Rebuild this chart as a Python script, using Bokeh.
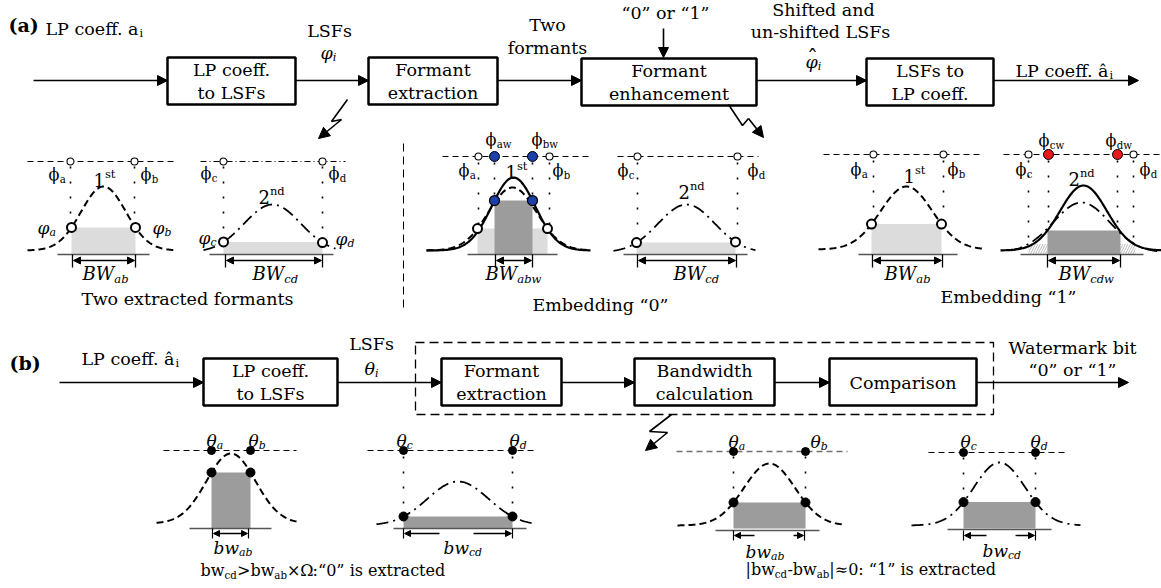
import numpy as np
from bokeh.plotting import figure
from bokeh.models import Range1d, Arrow, NormalHead, ColumnDataSource
from bokeh.core.properties import value
from bokeh.embed import file_html
from bokeh.resources import INLINE

SERIF = "DejaVu Serif"
W, H = 1161, 588

# ---------------- text content ----------------
box_labels_a = [["LP coeff.", "to LSFs"], ["Formant", "extraction"],
                ["Formant", "enhancement"], ["LSFs to", "LP coeff."]]
box_labels_b = [["LP coeff.", "to LSFs"], ["Formant", "extraction"],
                ["Bandwidth", "calculation"], ["Comparison"]]
captions = ["Two extracted formants", "Embedding \u201c0\u201d", "Embedding \u201c1\u201d"]
bit_label = "\u201c0\u201d or \u201c1\u201d"
PHI, PHI_IT, THETA = "\u03d5", "\u03c6", "\u03b8"

# ---------------- formant bell shapes: centre, base, height, spread ----------------
curves = {
    "a1": (103, 250, 64, 22.4, 27, 175, "dash"),
    "a2": (272, 252, 48, 28.2, 203, 335, "dashdot"),
    "a3": (512, 250, 63, 24.1, 426, 590, "dash"),
    "a3w": (513, 250, 73, 21.8, 426, 590, "solid"),
    "a4": (686, 252, 48, 28.2, 613, 755, "dashdot"),
    "a5": (906, 249, 63, 26.0, 818, 985, "dash"),
    "a6": (1081, 252, 50, 28.2, 1010, 1161, "dashdot"),
    "a6w": (1083, 250, 65, 23.5, 1000, 1161, "solid"),
    "b1": (230.5, 523, 70, 24.5, 156, 296, "dash"),
    "b2": (457.5, 525, 44, 30.6, 376, 535, "dashdot"),
    "b3": (769, 525, 62, 25.6, 677, 843, "dash"),
    "b4": (999, 525, 63, 25.6, 911, 1080, "dashdot"),
}
curve_styles = {"dash": dict(line_dash="7 4", line_width=2.0),
                "dashdot": dict(line_dash="12 5 2 5", line_width=1.8),
                "solid": dict(line_width=2.2)}


def bell(key, x):
    c, base, amp, sig = curves[key][:4]
    return base - amp * np.exp(-(np.asarray(x, dtype=float) - c) ** 2 / (2 * sig ** 2))


# LSF points lying on the formant curves
open_pts = [("a1", 71), ("a1", 135), ("a2", 223), ("a2", 322), ("a3", 477), ("a3", 547),
            ("a4", 636), ("a4", 735), ("a5", 871), ("a5", 941)]
blue_pts = [("a3w", 494), ("a3w", 532)]
black_pts = [("b1", 211), ("b1", 250), ("b2", 403), ("b2", 512),
             ("b3", 733), ("b3", 805), ("b4", 963), ("b4", 1035)]

# bandwidth areas (curve, left, right, floor)
light_areas = [("a1", 71, 135, 254), ("a2", 223, 322, 254), ("a3", 477, 547, 254),
               ("a4", 636, 735, 254), ("a5", 871, 941, 254)]
dark_areas = [("a3w", 494, 532, 254), ("a6w", 1047, 1120, 254), ("b1", 211, 250, 528),
              ("b2", 403, 512, 528), ("b3", 733, 805, 528), ("b4", 963, 1035, 528)]
striped_areas = [("a6", 1028, 1135, 254)]

# ---------------- figure ----------------
p = figure(width=W, height=H, x_range=Range1d(0, W), y_range=Range1d(H, 0),
           output_backend="svg", toolbar_location=None, min_border=0,
           x_axis_location=None, y_axis_location=None)
p.grid.visible = False
p.outline_line_color = None
p.background_fill_color = "white"
p.border_fill_color = "white"

texts = {}
ADV = {" ": 0.318, "a": 0.596, "b": 0.640, "c": 0.592, "d": 0.640, "e": 0.592, "f": 0.370,
       "i": 0.320, "n": 0.644, "s": 0.513, "t": 0.402, "w": 0.856, "x": 0.645, "r": 0.478,
       "o": 0.602, "h": 0.644, "m": 0.948, "l": 0.320, "B": 0.735, "W": 1.03, PHI: 0.70,
       PHI_IT: 0.70, THETA: 0.60, "|": 0.337, ":": 0.337, "-": 0.338, ">": 0.838,
       "\u00d7": 0.838, "\u03a9": 0.766, "\u2248": 0.838, "\u201c": 0.46, "\u201d": 0.46,
       "0": 0.636, "1": 0.636, "2": 0.636, "\u00e2": 0.596, "L": 0.637, "P": 0.653,
       ".": 0.318, "S": 0.685, "F": 0.673}


def put(x, y, s, size, style="normal", align="left"):
    d = texts.setdefault((size, style, align), {"x": [], "y": [], "t": []})
    d["x"].append(x)
    d["y"].append(y)
    d["t"].append(s)


def width(s, size):
    return sum(ADV.get(ch, 0.6) for ch in s) * size


def run(x, y, pieces, size=17, style="normal"):
    for s, kind in pieces:
        if kind == "":
            put(x, y, s, size, style)
            x += width(s, size)
        else:
            fs = round(size * 0.64, 1)
            dy = size * 0.30 if kind == "sub" else -size * 0.32
            put(x, y + dy, s, fs, style)
            x += width(s, fs)
    return x


def arrow(x0, y0, x1, y1, size=10, both=False, lw=1.6):
    head = dict(size=size, fill_color="black", line_color="black", line_width=1)
    p.add_layout(Arrow(end=NormalHead(**head), start=NormalHead(**head) if both else None,
                       x_start=x0, y_start=y0, x_end=x1, y_end=y1,
                       line_width=lw, line_color="black"))


# ---------------- (a) embedding chain ----------------
box_a_x = [(167, 295), (368, 497), (581, 756), (866, 993)]
box_a_y = [(57, 104), (57, 104), (58, 105), (58, 105)]
for (x0, x1), (y0, y1), lines in zip(box_a_x, box_a_y, box_labels_a):
    p.quad(left=x0, right=x1, top=y0, bottom=y1, fill_color="white",
           line_color="black", line_width=2.5)
    put((x0 + x1) / 2, (y0 + y1) / 2 - 11.5, lines[0], 17.5, align="center")
    put((x0 + x1) / 2, (y0 + y1) / 2 + 11.5, lines[1], 17.5, align="center")

for x0, x1 in zip([33, 295, 497, 756, 993], [167, 368, 581, 866, 1138]):
    arrow(x0, 80, x1, 80)
arrow(663, 28, 663, 57)

put(8, 24, "(a)", 19, "bold")
run(45, 28, [("LP coeff. a", ""), ("i", "sub")], 17.5)
put(329, 30, "LSFs", 17.5, align="center")
run(320, 52, [(PHI_IT, ""), ("i", "sub")], 17.5, "italic")
put(547, 24, "Two", 17.5, align="center")
put(547, 47, "formants", 17.5, align="center")
put(665, 12, bit_label, 17.5, align="center")
put(823, 9, "Shifted and", 17.5, align="center")
put(820, 31, "un-shifted LSFs", 17.5, align="center")
run(805, 61, [(PHI_IT, ""), ("i", "sub")], 17.5, "italic")
put(812, 58, "\u02c6", 22, align="center")
run(1015, 70, [("LP coeff. \u00e2", ""), ("i", "sub")], 17.5)

# lightning arrows pointing at the detail views
bolts = [([347, 331, 341], [99, 121, 119], (318, 138)),
         ([728, 742, 748], [104, 125, 118], (763, 137)),
         ([671, 649, 667], [414, 431, 432], (645, 450))]
for bx, by, (ex, ey) in bolts:
    p.line(bx, by, line_color="black", line_width=1.6)
    arrow(bx[-1], by[-1], ex, ey, size=11)

# ---------------- (a) detail panels ----------------
top_lines = [(27, 177, 161, "6 4"), (200, 345, 161, "6 3 1 3"), (442, 590, 156, "6 4"),
             (617, 758, 156, "6 4"), (823, 982, 154, "6 4"), (1003, 1161, 154, "6 4"),
             (163, 296, 450, "6 4"), (367, 537, 450, "6 4"), (928, 1067, 452, "6 4")]
for x0, x1, y, dash in top_lines:
    p.line([x0, x1], [y, y], line_color="black", line_width=1.1, line_dash=dash)
p.line([676, 847], [451, 451], line_color="#707070", line_width=1.3, line_dash="6 4")

# dotted guides
guides = [(70, 166, 224), (134, 166, 224), (223, 166, 238), (322, 166, 238),
          (478, 162, 224), (549, 162, 224), (494, 162, 194), (532, 162, 194),
          (637, 162, 238), (737, 162, 238), (873, 160, 220), (943, 160, 220),
          (1028, 160, 238), (1133, 160, 238), (1048, 160, 226), (1117, 160, 226),
          (403, 456, 512), (512, 456, 512), (733, 456, 498), (805, 456, 498),
          (963, 457, 499), (1035, 457, 499)]
p.multi_line([[g[0], g[0]] for g in guides], [[g[1], g[2]] for g in guides],
             line_color="black", line_width=1.6, line_dash="2 13")

# areas
for key, x0, x1, floor in striped_areas:
    p.quad(left=x0, right=x1, top=float(bell(key, x0)), bottom=floor, fill_color="white",
           line_color=None, hatch_pattern="right_diagonal_line", hatch_color="#b8b8b8",
           hatch_scale=5, hatch_weight=1)
for key, x0, x1, floor in light_areas:
    p.quad(left=x0, right=x1, top=float(bell(key, x0)), bottom=floor,
           fill_color="#dcdcdc", line_color=None)
for key, x0, x1, floor in dark_areas:
    p.quad(left=x0, right=x1, top=float(bell(key, x0)), bottom=floor,
           fill_color="#9c9c9c", line_color=None)

# curves
for key in ["a1", "a2", "a3", "a3w", "a4", "a5", "a6", "a6w", "b1", "b2", "b3", "b4"]:
    c, base, amp, sig, x0, x1, style = curves[key]
    xs = np.linspace(x0, x1, 200)
    p.line(xs, bell(key, xs), line_color="black", **curve_styles[style])

# baselines
baselines = [(57, 149, 254), (209, 333, 254), (467, 557, 254), (623, 747, 254),
             (858, 957, 254), (1020, 1143, 254), (189, 271, 528), (393, 526, 528),
             (715, 819, 530), (947, 1051, 529)]
p.multi_line([[b[0], b[1]] for b in baselines], [[b[2], b[2]] for b in baselines],
             line_color="#555555", line_width=1.3)

# bandwidth brackets
bw_a = [(72, 135), (225, 322), (495, 532), (637, 736), (872, 942), (1047, 1120)]
for x0, x1 in bw_a:
    p.multi_line([[x0, x0], [x1, x1]], [[254, 267], [254, 267]], line_color="black", line_width=1.3)
    arrow(x0 + 1, 260, x1 - 1, 260, size=7, both=True, lw=1.5)
p.multi_line([[212, 212], [248, 248]], [[528, 538], [528, 538]], line_color="black", line_width=1.2)
arrow(213, 533, 247, 533, size=6, both=True, lw=1.3)
bw_b = [(403, 512, 439, 473, 533), (733, 804, 754, 793, 535), (963, 1035, 986, 1015, 535)]
for x0, x1, m0, m1, y in bw_b:
    p.multi_line([[x0, x0], [x1, x1]], [[y - 5, y + 5], [y - 5, y + 5]], line_color="black", line_width=1.2)
    arrow(m0, y, x0 + 1, y, size=6, lw=1.3)
    arrow(m1, y, x1 - 1, y, size=6, lw=1.3)

# LSF markers
top_open = [(70, 161), (134, 161), (223, 161), (322, 161), (478, 156), (549, 156),
            (637, 156), (737, 156), (873, 154), (943, 154), (1028, 154), (1133, 154)]
p.scatter([t[0] for t in top_open], [t[1] for t in top_open], size=7, marker="circle",
          fill_color="white", line_color="black", line_width=1.1)
p.scatter([494, 532], [156, 156], size=10, fill_color="#1c3fa8", line_color="black", line_width=1)
p.scatter([1048, 1117], [154, 154], size=10, fill_color="#e8191a", line_color="black", line_width=1)
p.scatter([211, 250, 403, 512, 733, 805, 963, 1035], [450, 450, 450, 450, 451, 451, 452, 452],
          size=8, fill_color="black", line_color="black")
p.scatter([x for _, x in open_pts], [float(bell(k, x)) for k, x in open_pts], size=9,
          fill_color="white", line_color="black", line_width=2)
p.scatter([x for _, x in blue_pts], [float(bell(k, x)) for k, x in blue_pts], size=10,
          fill_color="#1c3fa8", line_color="black", line_width=1.2)
p.scatter([x for _, x in black_pts], [float(bell(k, x)) for k, x in black_pts], size=9,
          fill_color="black", line_color="black")

# LSF labels
upright = [(48, 174, "a"), (140, 174, "b"), (200, 173, "c"), (328, 173, "d"),
           (458, 170, "a"), (552, 170, "b"), (485, 139, "aw"), (531, 139, "bw"),
           (617, 170, "c"), (747, 170, "d"), (850, 169, "a"), (947, 169, "b"),
           (1015, 169, "c"), (1139, 169, "d"), (1038, 140, "cw"), (1105, 140, "dw")]
for x, y, s in upright:
    run(x, y, [(PHI, ""), (s, "sub")], 16)
for x, y, s in [(37, 227, "a"), (152, 227, "b"), (198, 237, "c"), (335, 238, "d")]:
    run(x, y, [(PHI_IT, ""), (s, "sub")], 17, "italic")
ordinals = [(93, 179, "1", "st"), (258, 196, "2", "nd"), (505, 171, "1", "st"),
            (678, 191, "2", "nd"), (903, 175, "1", "st"), (1068, 178, "2", "nd")]
for x, y, d, s in ordinals:
    run(x, y, [(d, ""), (s, "sup")], 18)
for x, s in [(82, "ab"), (252, "cd"), (485, "abw"), (673, "cd"), (884, "ab"), (1058, "cdw")]:
    run(x, 273, [("BW", ""), (s, "sub")], 18, "italic")

p.line([403, 403], [143, 310], line_color="black", line_width=1, line_dash="8 5")
put(187, 298, captions[0], 17.5, align="center")
put(600, 304, captions[1], 17.5, align="center")
put(1008, 296, captions[2], 17.5, align="center")

# ---------------- (b) extraction chain ----------------
box_b_x = [(203, 337), (441, 561), (634, 774), (829, 976)]
for (x0, x1), lines in zip(box_b_x, box_labels_b):
    p.quad(left=x0, right=x1, top=358, bottom=405, fill_color="white",
           line_color="black", line_width=2.5)
    if len(lines) == 2:
        put((x0 + x1) / 2, 370, lines[0], 17.5, align="center")
        put((x0 + x1) / 2, 393, lines[1], 17.5, align="center")
    else:
        put((x0 + x1) / 2, 382, lines[0], 17.5, align="center")
p.line([415, 993, 993, 415, 415], [342, 342, 414, 414, 342], line_color="black",
       line_width=1.3, line_dash="9 5")
for x0, x1 in zip([59, 337, 561, 774, 976], [203, 441, 634, 829, 1128]):
    arrow(x0, 382, x1, 382)

put(9, 362, "(b)", 19, "bold")
run(81, 358, [("LP coeff. \u00e2", ""), ("i", "sub")], 17.5)
put(371, 343, "LSFs", 17.5, align="center")
run(364, 368, [(THETA, ""), ("i", "sub")], 17.5, "italic")
put(1072, 347, "Watermark bit", 17.5, align="center")
put(1072, 369, bit_label, 17.5, align="center")

for x, y, s in [(206, 440, "a"), (248, 440, "b"), (396, 440, "c"), (509, 440, "d"),
                (728, 441, "a"), (810, 441, "b"), (960, 441, "c"), (1030, 441, "d")]:
    run(x, y, [(THETA, ""), (s, "sub")], 17, "italic")
for x, y, s in [(213, 547, "ab"), (443, 547, "cd"), (745, 551, "ab"), (982, 550, "cd")]:
    run(x, y, [("bw", ""), (s, "sub")], 17, "italic")

run(200, 570, [("bw", ""), ("cd", "sub"), (">bw", ""), ("ab", "sub"),
               ("\u00d7\u03a9", ""), (" :\u201c0\u201d is extracted", "")], 16)
run(745, 569, [("|bw", ""), ("cd", "sub"), ("-bw", ""), ("ab", "sub"),
               ("|\u22480: \u201c1\u201d is extracted", "")], 16)

for (size, style, align), d in texts.items():
    p.text(x="x", y="y", text="t", source=ColumnDataSource(d), text_font=value(SERIF),
           text_font_size=f"{size}px", text_font_style=style, text_align=align,
           text_baseline="middle", text_color="black")

open("out.html", "w").write(file_html(p, INLINE))
